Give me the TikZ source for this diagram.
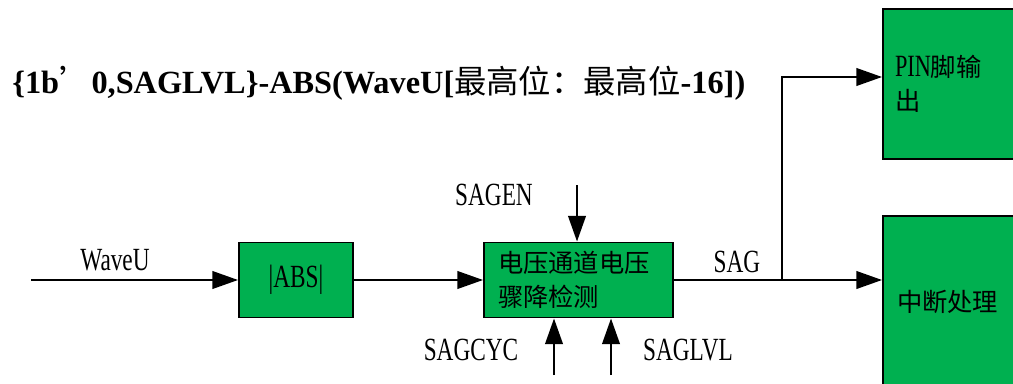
\documentclass[tikz,border=0pt]{standalone}
\usepackage{fontspec}
\setmainfont{Liberation Serif}
\newfontfamily\cjk{Noto Sans CJK SC}
\newfontfamily\labfont[FakeStretch=0.72]{Liberation Serif}
\usetikzlibrary{arrows.meta,positioning}
\definecolor{boxgreen}{RGB}{0,176,80}

\begin{document}
\begin{tikzpicture}[
	block/.style={draw, line width=1.4pt, fill=boxgreen},
	conn/.style={line width=1.4pt, -{Triangle[length=0.64cm,width=0.44cm]}},
	sig/.style={font=\labfont\fontsize{23}{26}\selectfont},
	zh/.style={font=\cjk\fontsize{18}{24}\selectfont, align=left}
	]
	\useasboundingbox (0, 0) rectangle (25.325, 9.575);
	% formel oben
	\node[anchor=base west, inner sep=0pt] (formula) at (0.3, 7.25) {\bfseries\fontsize{23}{26}\selectfont \{1b{\cjk\mdseries ’}0,SAGLVL\}-ABS(WaveU[{\cjk\mdseries 最高位：最高位}-16])};
	% bloecke
	\node[block, sig, minimum width=2.85cm, minimum height=1.875cm] (abs) at (7.4, 2.575) {|ABS|};
	\node[block, zh, inner xsep=0.35cm, text width=4.025cm, minimum height=1.875cm] (det) at (14.4625, 2.575) {电压通道电压\\骤降检测};
	\node[block, zh, inner xsep=0.3cm, text width=3.15cm, minimum height=3.75cm] (pin) at (23.95, 7.475) {{\labfont\fontsize{22}{24}\selectfont PIN}脚输\\出};
	\node[block, zh, inner xsep=0.35cm, text width=3.05cm, minimum height=4.3cm] (irq) at (23.95, 2.025) {中断处理};
	% eingaenge
	\coordinate (in) at (0.775, 2.575);
	\coordinate (en) at (14.425, 4.95);
	\coordinate (cyc) at (13.85, 0.2);
	\coordinate (lvl) at (15.275, 0.2);
	\coordinate (br) at (19.55, 2.575);
	\draw[conn] (in) -- (abs);
	\draw[conn] (abs) -- (det);
	\draw[conn] (en) -- (en |- det.north);
	\draw[conn] (cyc) -- (cyc |- det.south);
	\draw[conn] (lvl) -- (lvl |- det.south);
	\draw[conn] (det.east) -- (det.east -| irq.west);
	\draw[conn] (br) |- ([yshift=0.175cm]pin.west);
	% beschriftung
	\node[sig] (wavelab) at (2.875, 3.075) {WaveU};
	\node[sig] (enlab) at (12.35, 4.7) {SAGEN};
	\node[sig] (cyclab) at (11.775, 0.825) {SAGCYC};
	\node[sig] (lvllab) at (17.2, 0.825) {SAGLVL};
	\node[sig] (saglab) at (18.425, 3.025) {SAG};
\end{tikzpicture}
\end{document}
